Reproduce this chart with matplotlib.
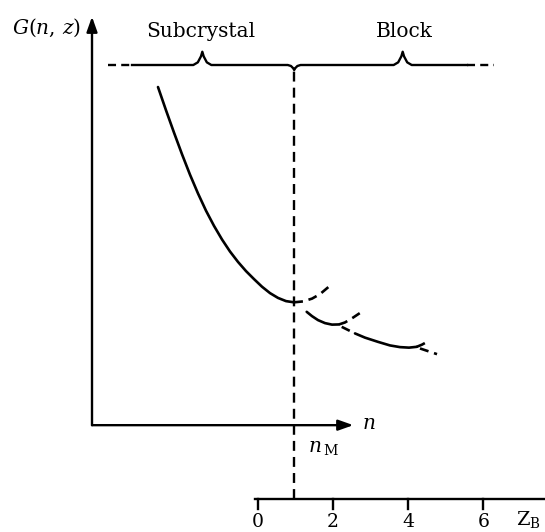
import matplotlib
matplotlib.use("Agg")
import matplotlib.pyplot as plt
import numpy as np

plt.rcParams['font.family'] = ['DejaVu Serif']
plt.rcParams['mathtext.fontset'] = 'dejavuserif'

# ---- data (x in Z_B units, y in G units) ----
main_x = [-2.652, -2.439, -2.226, -2.013, -1.801, -1.588, -1.375, -1.162, -0.949,
          -0.737, -0.524, -0.311, -0.098, 0.114, 0.327, 0.540, 0.753, 0.965]
main_y = [10.965, 10.348, 9.753, 9.178, 8.636, 8.136, 7.678, 7.274, 6.912,
          6.593, 6.316, 6.072, 5.859, 5.657, 5.487, 5.359, 5.274, 5.242]
main_dash_x = [0.965, 1.205, 1.444, 1.657, 1.878]
main_dash_y = [5.242, 5.266, 5.340, 5.460, 5.646]

c2_x = [1.303, 1.444, 1.604, 1.790, 1.976, 2.162]
c2_y = [4.989, 4.875, 4.769, 4.689, 4.649, 4.654]
c2_dash_x = [2.162, 2.322, 2.535, 2.766]
c2_dash_y = [4.654, 4.707, 4.835, 4.989]

c3_lead_x = [2.234, 2.588]
c3_lead_y = [4.590, 4.415]
c3_x = [2.588, 2.854, 3.199, 3.518, 3.784, 4.024, 4.229]
c3_y = [4.415, 4.303, 4.191, 4.096, 4.051, 4.037, 4.059]
c3_dash_x = [4.229, 4.370, 4.503]
c3_dash_y = [4.059, 4.117, 4.191]

c4_lead_x = [4.316, 4.769]
c4_lead_y = [4.016, 3.864]

n_M = 0.97
zb_ticks = [0, 2, 4, 6]
zb_labels = ['0', '2', '4', '6']

# brace (top scale): x positions and levels
brace_y = 11.551
brace_peak = 11.904
brace_cusp = 11.418
sub_peak_x = -1.473
block_peak_x = 3.856
brace_left_dash = (-3.981, -3.343)
brace_right_dash = (5.566, 6.285)

# axes frame
g_axis_x = -4.407
n_axis_y = 1.976
g_axis_top = 12.835
n_axis_right = 2.543

fig = plt.figure(figsize=(5.45, 5.32), dpi=100)
ax = fig.add_axes([0, 0, 1, 1])
ax.set_xlim(-6.854, 7.641)
ax.set_ylim(-0.864, 13.279)
ax.axis('off')

LW = 1.7
CLW = 1.9
DASH = (0, (3.4, 2.2))
k = 'black'

def cplot(x, y, ls='-'):
    ax.plot(x, y, color=k, lw=CLW, ls=ls, solid_joinstyle='round',
            solid_capstyle='round', dash_capstyle='butt')

# curves
cplot(main_x, main_y)
cplot(main_dash_x, main_dash_y, DASH)
cplot(c2_x, c2_y)
cplot(c2_dash_x, c2_dash_y, DASH)
cplot(c3_lead_x, c3_lead_y, DASH)
cplot(c3_x, c3_y)
cplot(c3_dash_x, c3_dash_y, DASH)
cplot(c4_lead_x, c4_lead_y, DASH)

# axes with arrows
arrow = dict(arrowstyle='-|>,head_length=0.9,head_width=0.32', lw=LW,
             color=k, mutation_scale=10, shrinkA=0, shrinkB=0)
ax.annotate('', xy=(g_axis_x, g_axis_top), xytext=(g_axis_x, n_axis_y),
            arrowprops=arrow)
ax.annotate('', xy=(n_axis_right, n_axis_y), xytext=(g_axis_x, n_axis_y),
            arrowprops=arrow)

# vertical dashed n_M line
ax.plot([n_M, n_M], [0, brace_cusp], color=k, lw=LW, ls=(0, (4.2, 2.6)))

# brace line
def bump(xc, up=True):
    h = (brace_peak - brace_y) if up else (brace_cusp - brace_y)
    w = 0.24 if up else 0.17
    xs = xc + np.array([-w, -w * 0.5, -w * 0.15, 0, w * 0.15, w * 0.5, w])
    ys = brace_y + h * np.array([0, 0.2, 0.65, 1, 0.65, 0.2, 0])
    return list(xs), list(ys)

bx, by = [brace_left_dash[1]], [brace_y]
for xc, up in [(sub_peak_x, True), (n_M, False), (block_peak_x, True)]:
    xs, ys = bump(xc, up)
    bx += xs
    by += ys
bx.append(brace_right_dash[0])
by.append(brace_y)
ax.plot(bx, by, color=k, lw=LW, solid_joinstyle='round')
ax.plot(brace_left_dash, [brace_y, brace_y], color=k, lw=LW, ls=DASH)
ax.plot(brace_right_dash, [brace_y, brace_y], color=k, lw=LW, ls=DASH)

# bottom Z_B scale
ax.plot([-0.07, 7.7], [0, 0], color=k, lw=LW)
for t, lab in zip(zb_ticks, zb_labels):
    ax.plot([t, t], [0, -0.24], color=k, lw=LW)
    ax.text(t, -0.6, lab, ha='center', va='center', fontsize=13.5)
ax.text(6.86, -0.52, r'$\mathrm{Z}_{\mathrm{B}}$', ha='left', va='center', fontsize=14)

# labels
FS = 14.5
ax.text(-4.699, 12.53, r'$G(n,\,z)$', ha='right', va='center', fontsize=FS)
ax.text(sub_peak_x - 0.05, 12.45, 'Subcrystal', ha='center', va='center', fontsize=FS)
ax.text(block_peak_x + 0.05, 12.45, 'Block', ha='center', va='center', fontsize=FS)
ax.text(2.77, n_axis_y + 0.05, r'$n$', ha='left', va='center', fontsize=FS)
ax.text(1.338, 1.36, r'$n_{\,\mathrm{M}}$', ha='left', va='center', fontsize=FS)

fig.savefig('out.png', dpi=100)
